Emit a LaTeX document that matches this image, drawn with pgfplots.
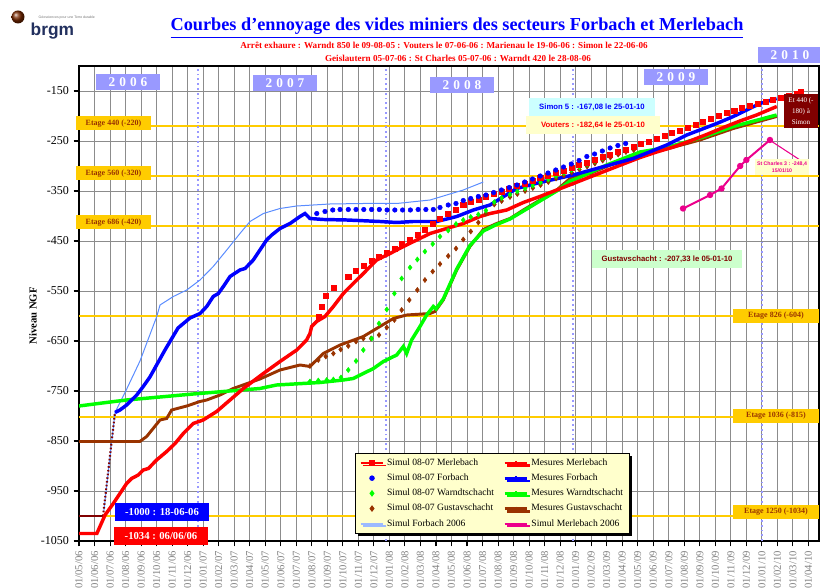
\documentclass[border=0pt]{standalone}
\usepackage{pgfplots}
\pgfplotsset{compat=1.18}
\usepackage{fontspec}
\setmainfont{Liberation Serif}
\newfontfamily\arial{Liberation Sans}
\usetikzlibrary{shadows}

\definecolor{brun}{HTML}{993300}
\definecolor{bordeaux}{HTML}{800000}
\definecolor{or}{HTML}{FFCC00}
\definecolor{lila}{HTML}{9999FF}
\definecolor{bleuclair}{HTML}{5A8CFF}
\definecolor{jaunepale}{HTML}{FFFFCC}
\definecolor{cyanpale}{HTML}{CCFFFF}
\definecolor{vertpale}{HTML}{CCFFCC}
\definecolor{logo}{HTML}{22305E}

\tikzset{
  etage/.style={fill=or, text=brun, font=\bfseries\fontsize{6}{7}\selectfont,
    minimum height=10.5pt, inner sep=0pt},
  annee/.style={fill=lila, text=white, font=\bfseries\fontsize{10}{11}\selectfont,
    minimum width=48pt, minimum height=12pt, inner sep=0pt},
  bulle/.style={font=\arial\bfseries\fontsize{5.8}{6.5}\selectfont, minimum height=13.5pt, inner sep=2pt},
}
\newcommand{\an}[4]{#1\hspace{3pt}#2\hspace{3pt}#3\hspace{3pt}#4}

\begin{document}
\begin{tikzpicture}
\begin{axis}[
  at={(59.25pt,35.25pt)}, anchor=south west,
  scale only axis, width=555pt, height=356.25pt,
  xmin=0, xmax=47.68, ymin=-1050, ymax=-100,
  xtick={0,...,47},
  xticklabels={01/05/06,01/06/06,01/07/06,01/08/06,01/09/06,01/10/06,01/11/06,01/12/06,
    01/01/07,01/02/07,01/03/07,01/04/07,01/05/07,01/06/07,01/07/07,01/08/07,01/09/07,01/10/07,01/11/07,01/12/07,
    01/01/08,01/02/08,01/03/08,01/04/08,01/05/08,01/06/08,01/07/08,01/08/08,01/09/08,01/10/08,01/11/08,01/12/08,
    01/01/09,01/02/09,01/03/09,01/04/09,01/05/09,01/06/09,01/07/09,01/08/09,01/09/09,01/10/09,01/11/09,01/12/09,
    01/01/10,01/02/10,01/03/10,01/04/10},
  x tick label style={rotate=90, anchor=east, font=\fontsize{8}{9}\selectfont, text=black!50},
  ytick={-1050,-950,...,-150},
  yticklabels={-1050,-950,-850,-750,-650,-550,-450,-350,-250,-150},
  y tick label style={font=\fontsize{9}{10}\selectfont},
  grid=major,
  major grid style={black!45, line width=0.7pt},
  tick align=outside, tick pos=left, major tick length=4pt,
  tick style={black, line width=0.8pt},
  axis line style={black, line width=0.9pt},
  legend columns=2,
  legend cell align=left,
  legend style={at={(0.373,0.0147)}, anchor=south west, fill=jaunepale, draw=black,
    line width=0.9pt, font=\fontsize{7.2}{8.3}\selectfont, row sep=0.9pt,
    inner xsep=3pt, inner ysep=2pt,
    drop shadow={shadow xshift=2pt, shadow yshift=-2pt, fill=black, opacity=1},
    /tikz/every even column/.append style={column sep=5pt}},
]

% niveaux des etages
\addplot[or, line width=1.5pt, forget plot] coordinates {(0,-220) (47.68,-220)};
\addplot[or, line width=1.5pt, forget plot] coordinates {(0,-320) (47.68,-320)};
\addplot[or, line width=1.5pt, forget plot] coordinates {(0,-420) (47.68,-420)};
\addplot[or, line width=1.5pt, forget plot] coordinates {(0,-600) (47.68,-600)};
\addplot[or, line width=1.5pt, forget plot] coordinates {(0,-803) (47.68,-803)};
\addplot[or, line width=1.5pt, forget plot] coordinates {(0,-1000) (47.68,-1000)};

% changements d'annee
\addplot[lila, line width=1.5pt, dash pattern=on 1.4pt off 2.2pt, forget plot] coordinates {(7.67,-1050) (7.67,-100)};
\addplot[lila, line width=1.5pt, dash pattern=on 1.4pt off 2.2pt, forget plot] coordinates {(19.75,-1050) (19.75,-100)};
\addplot[lila, line width=1.5pt, dash pattern=on 1.4pt off 2.2pt, forget plot] coordinates {(31.85,-1050) (31.85,-100)};
\addplot[lila, line width=1.5pt, dash pattern=on 1.4pt off 2.2pt, forget plot] coordinates {(44.0,-1050) (44.0,-100)};

% Simul Forbach 2006
\addplot[bleuclair, line width=0.75pt, forget plot] coordinates {
 (1.6,-990) (2.32,-793) (3.09,-745) (3.93,-690) (5.01,-601) (5.22,-578) (6.08,-561) (6.94,-548)
 (7.8,-528) (8.65,-501) (9.52,-468) (10.37,-435) (11.02,-411) (11.88,-395) (12.95,-385)
 (14.03,-380) (16.17,-376) (18.32,-375) (20.47,-375) (22.62,-368) (24.76,-348) (26.05,-332)};

% niveau initial Forbach
\addplot[bordeaux, line width=1.8pt, forget plot] coordinates {(0,-1000) (1.55,-1000)};
\addplot[bordeaux, line width=1.6pt, dash pattern=on 1.2pt off 1.6pt, forget plot] coordinates {(1.55,-1000) (2.32,-793)};

% Mesures Gustavschacht
\addplot[brun, line width=2.2pt, forget plot] coordinates {
 (0,-851) (3.92,-851) (4.36,-841) (5.22,-808) (5.65,-805) (5.97,-788) (6.94,-780) (7.8,-771)
 (8.23,-768) (9.09,-758) (9.94,-745) (11.02,-733) (11.66,-726) (12.95,-708) (14.24,-698)
 (14.88,-701) (15.74,-675) (16.82,-658) (18.32,-641) (19.39,-621) (20.25,-605) (21.11,-598)
 (22.62,-595) (22.94,-591) (23.47,-568) (24.34,-508) (25.19,-461) (26.05,-427) (26.91,-415)
 (27.77,-405) (28.63,-388) (29.7,-368) (30.78,-348) (31.64,-325) (31.85,-321) (32.94,-315)
 (34.0,-301) (36.15,-275) (37.87,-266) (40.01,-248) (42.16,-225) (44.95,-201)};

% Mesures Warndtschacht
\addplot[green, line width=2.6pt, forget plot] coordinates {
 (0,-780) (1.5,-774) (3.07,-768) (7.36,-756) (11.66,-745) (12.73,-738) (15.52,-733)
 (17.03,-728) (17.67,-725) (18.32,-715) (18.97,-705) (19.61,-691) (20.47,-678) (20.9,-661)
 (21.11,-675) (21.43,-648) (21.97,-621) (22.4,-598) (22.83,-581) (23.0,-586) (23.47,-566)
 (24.34,-506) (25.19,-459) (26.05,-430) (26.91,-417) (27.77,-406) (28.63,-390) (29.7,-370)
 (30.78,-350) (31.64,-330) (32.1,-325) (32.94,-313) (34.0,-298) (36.15,-272) (37.87,-263)
 (40.01,-244) (42.16,-221) (44.95,-198)};

% Mesures Merlebach
\addplot[red, line width=2.6pt, forget plot] coordinates {
 (0,-1035) (1.15,-1035) (1.68,-998) (2.21,-975) (3.07,-935) (3.39,-925) (3.82,-918) (4.14,-908)
 (4.47,-905) (5.0,-888) (5.65,-871) (6.19,-855) (6.72,-835) (7.36,-815) (8.0,-808) (8.87,-791)
 (9.73,-768) (10.59,-745) (11.02,-735) (11.88,-715) (12.95,-691) (14.03,-668) (14.67,-648)
 (14.88,-635) (14.99,-621) (15.31,-611) (15.85,-601) (16.39,-581) (17.03,-555) (17.67,-535)
 (18.32,-515) (19.18,-488) (20.04,-475) (20.9,-461) (21.76,-448) (22.62,-435) (23.69,-425)
 (24.77,-415) (25.84,-401) (26.49,-395) (27.56,-388) (28.63,-373) (29.7,-361) (30.78,-348)
 (31.85,-335) (32.92,-322) (34.0,-309) (35.07,-296) (36.15,-283) (37.22,-272) (38.3,-262)
 (39.37,-250) (40.44,-237) (41.52,-223) (42.59,-210) (43.66,-198) (44.96,-181)};

% Mesures Forbach
\addplot[blue, line width=2.6pt, forget plot] coordinates {
 (2.32,-793) (2.64,-788) (3.07,-778) (3.72,-758) (4.14,-741) (4.57,-722) (5.54,-668) (6.38,-624)
 (7.15,-604) (7.8,-595) (8.23,-581) (8.65,-561) (8.98,-555) (9.3,-541) (9.73,-521) (10.37,-508)
 (10.7,-505) (11.23,-488) (11.66,-468) (12.09,-448) (12.42,-438) (12.95,-425) (13.6,-415)
 (14.24,-401) (14.56,-395) (14.88,-405) (15.74,-407) (17.25,-408) (19.39,-411) (20.47,-413)
 (21.54,-411) (23.05,-411) (24.34,-401) (25.41,-388) (26.48,-378) (28.2,-345) (29.7,-333)
 (31.85,-318) (33.36,-305) (35.71,-285) (37.87,-258) (39.16,-238) (41.09,-215) (42.16,-201)
 (43.88,-175) (44.95,-165)};

% Simul 08-07 Gustavschacht
\addplot[only marks, brun, mark=diamond*, mark size=1.9pt, forget plot] coordinates {
 (14.88,-700) (15.42,-688) (15.9,-681) (16.39,-675) (16.86,-667) (17.35,-660) (17.85,-651)
 (18.32,-645) (18.82,-645) (19.33,-638) (19.83,-623) (20.32,-608) (20.79,-588) (21.28,-568)
 (21.8,-548) (22.29,-528) (22.79,-511) (23.26,-496) (23.79,-480) (24.29,-465) (24.76,-447)
 (25.24,-431) (25.73,-413) (26.22,-395) (26.76,-377) (27.23,-370) (27.77,-362) (28.24,-356)
 (28.74,-350) (29.24,-344) (29.74,-338) (30.24,-332) (30.74,-325) (31.24,-319) (31.74,-313)
 (32.24,-307) (32.74,-301) (33.24,-295) (33.74,-289) (34.24,-283) (34.74,-277) (35.24,-272)
 (35.74,-268)};

% Simul 08-07 Warndtschacht
\addplot[only marks, green, mark=diamond*, mark size=1.9pt, forget plot] coordinates {
 (14.88,-731) (15.42,-729) (15.96,-728) (16.39,-727) (16.88,-723) (17.35,-708) (17.85,-690)
 (18.32,-668) (18.86,-645) (19.33,-615) (19.83,-587) (20.32,-555) (20.79,-525) (21.33,-503)
 (21.8,-487) (22.29,-471) (22.79,-456) (23.26,-441) (23.79,-429) (24.29,-416) (24.76,-408)
 (25.24,-402) (25.73,-397) (26.22,-389) (26.76,-372) (27.23,-364) (27.77,-357) (28.24,-351)
 (28.74,-345) (29.24,-339) (29.74,-333) (30.24,-327) (30.74,-320) (31.24,-314) (31.74,-308)
 (32.24,-302) (32.74,-296) (33.24,-290) (33.74,-284) (34.24,-278) (34.74,-272) (35.24,-267)
 (35.74,-262)};

% Simul 08-07 Merlebach
\addplot[only marks, red, mark=square*, mark size=1.9pt, forget plot] coordinates {
 (15.42,-601) (15.64,-581) (15.9,-560) (16.39,-543) (17.35,-521) (17.85,-510) (18.32,-499)
 (18.86,-489) (19.33,-481) (19.83,-473) (20.32,-465) (20.79,-456) (21.33,-448) (21.8,-438)
 (22.29,-427) (22.79,-415) (23.26,-405) (23.79,-396) (24.29,-388) (24.76,-378) (25.24,-371)
 (25.73,-368) (26.22,-361) (26.72,-356) (27.22,-351) (27.72,-345) (28.22,-340) (28.72,-335)
 (29.22,-330) (29.72,-324) (30.22,-319) (30.72,-314) (31.22,-309) (31.72,-303) (32.22,-298)
 (32.72,-293) (33.22,-288) (33.72,-282) (34.22,-277) (34.72,-272) (35.22,-267) (35.72,-262)
 (36.22,-256) (36.72,-251) (37.22,-246) (37.72,-240) (38.22,-234) (38.72,-229) (39.22,-223)
 (39.72,-217) (40.22,-211) (40.72,-206) (41.22,-200) (41.72,-194) (42.22,-189) (42.72,-184)
 (43.22,-179) (43.72,-175) (44.22,-171) (44.72,-167) (45.22,-163) (45.72,-159) (46.22,-155)
 (46.5,-151)};

% Simul 08-07 Forbach
\addplot[only marks, blue, mark=*, mark size=1.7pt, forget plot] coordinates {
 (15.32,-395) (15.85,-391) (16.35,-388) (16.82,-387) (17.35,-387) (17.85,-387) (18.35,-387)
 (18.85,-387) (19.35,-387) (19.85,-388) (20.35,-388) (20.85,-388) (21.35,-388) (21.85,-387)
 (22.35,-387) (22.83,-387) (23.26,-383) (23.79,-378) (24.29,-375) (24.76,-369) (25.24,-365)
 (25.73,-361) (26.22,-358) (26.72,-353) (27.22,-348) (27.72,-343) (28.22,-338) (28.72,-332)
 (29.22,-326) (29.72,-320) (30.22,-314) (30.72,-308) (31.22,-302) (31.72,-296) (32.22,-289)
 (32.72,-281) (33.22,-276) (33.72,-270) (34.22,-264) (34.72,-259) (35.22,-255)};

% Simul Merlebach 2006
\addplot[magenta, line width=1.5pt, mark=*, mark size=1.6pt, forget plot] coordinates {
 (38.92,-385) (40.66,-358) (41.4,-345) (42.6,-300) (43.0,-288) (44.52,-248)};

% legende
\addlegendimage{red, line width=1pt, mark=square*, mark size=1.8pt}
\addlegendentry{Simul 08-07 Merlebach}
\addlegendimage{red, line width=2pt, mark=+, mark size=1.5pt}
\addlegendentry{Mesures Merlebach}
\addlegendimage{only marks, blue, mark=*, mark size=1.6pt}
\addlegendentry{Simul 08-07 Forbach}
\addlegendimage{blue, line width=2pt, mark=+, mark size=1.5pt}
\addlegendentry{Mesures Forbach}
\addlegendimage{only marks, green, mark=diamond*, mark size=1.8pt}
\addlegendentry{Simul 08-07 Warndtschacht}
\addlegendimage{green, line width=2pt, mark=+, mark size=1.5pt}
\addlegendentry{Mesures Warndtschacht}
\addlegendimage{only marks, brun, mark=diamond*, mark size=1.8pt}
\addlegendentry{Simul 08-07 Gustavschacht}
\addlegendimage{brun, line width=2pt, mark=+, mark size=1.5pt}
\addlegendentry{Mesures Gustavschacht}
\addlegendimage{bleuclair!60!white, line width=1.5pt}
\addlegendentry{Simul Forbach 2006}
\addlegendimage{magenta, line width=1.5pt}
\addlegendentry{Simul Merlebach 2006}
\end{axis}

% annotations, en pixels de l'image d'origine
\begin{scope}[shift={(0,441pt)}, x=0.75pt, y=-0.75pt]
  % logo
  \shade[ball color=brun!80!black] (18,17) circle (6.5);
  \node[anchor=west, text=logo, font=\arial\bfseries\fontsize{13}{14}\selectfont] at (26,31) {brgm};
  \node[anchor=west, text=black!55, font=\arial\fontsize{2.6}{3}\selectfont] at (34,18) {Géosciences pour une Terre durable};

  % titres
  \node[text=blue, font=\bfseries\fontsize{13.7}{15}\selectfont] at (457,28)
    {\underline{Courbes d'ennoyage des vides miniers des secteurs Forbach et Merlebach}};
  \node[text=red, font=\bfseries\fontsize{6.85}{8}\selectfont] at (444,45)
    {Arrêt exhaure : Warndt 850 le 09-08-05 : Vouters le 07-06-06 : Marienau le 19-06-06 : Simon le 22-06-06};
  \node[text=red, font=\bfseries\fontsize{6.85}{8}\selectfont] at (458,58)
    {Geislautern 05-07-06 : St Charles 05-07-06 : Warndt 420 le 28-08-06};

  \node[rotate=90, font=\bfseries\fontsize{8}{9}\selectfont] at (33,316) {Niveau NGF};

  % annees
  \node[annee] at (128,82) {\an2006};
  \node[annee] at (285,83) {\an2007};
  \node[annee] at (462,85) {\an2008};
  \node[annee] at (676,77) {\an2009};
  \node[annee] at (790,55) {\an2010};

  % etages
  \node[etage, minimum width=56pt] at (113.5,123.5) {Etage 440 (-220)};
  \node[etage, minimum width=56pt] at (113.5,173.5) {Etage 560 (-320)};
  \node[etage, minimum width=56pt] at (113.5,222.5) {Etage 686 (-420)};
  \node[etage, minimum width=64pt] at (776,316) {Etage 826 (-604)};
  \node[etage, minimum width=64pt] at (776,416) {Etage 1036 (-815)};
  \node[etage, minimum width=64pt] at (776,512) {Etage 1250 (-1034)};

  % valeurs
  \node[bulle, fill=cyanpale, text=blue, minimum width=94pt] at (592,107) {Simon 5 : -167,08 le 25-01-10};
  \node[bulle, fill=jaunepale, text=red, minimum width=101pt] at (593,125) {Vouters : -182,64 le 25-01-10};
  \node[bulle, fill=vertpale, text=bordeaux, minimum width=112pt] at (667,259) {Gustavschacht : -207,33 le 05-01-10};
  \draw[magenta, line width=0.8pt] (771,141) -- (800,160);
  \node[fill=jaunepale, text=magenta, align=center, inner sep=1.5pt, minimum width=38pt,
    font=\arial\bfseries\fontsize{3.9}{5.5}\selectfont] at (782,167) {St Charles 3 : -248,4\\15/01/10};
  \node[fill=bordeaux, text=white, align=center, inner sep=1pt, minimum width=25pt, minimum height=26pt,
    font=\fontsize{5.3}{8}\selectfont] at (801,111) {Et 440 (-\\180) à\\Simon};
  \node[fill=blue, text=white, font=\bfseries\fontsize{8}{9}\selectfont, minimum width=70pt,
    minimum height=13.5pt, inner sep=0pt] at (162,512) {-1000 : 18-06-06};
  \node[fill=red, text=white, font=\bfseries\fontsize{8}{9}\selectfont, minimum width=71pt,
    minimum height=13.5pt, inner sep=0pt] at (161,536.5) {-1034 : 06/06/06};
\end{scope}

\pgfresetboundingbox
\path[use as bounding box] (0,0) rectangle (615pt,441pt);
\end{tikzpicture}
\end{document}
